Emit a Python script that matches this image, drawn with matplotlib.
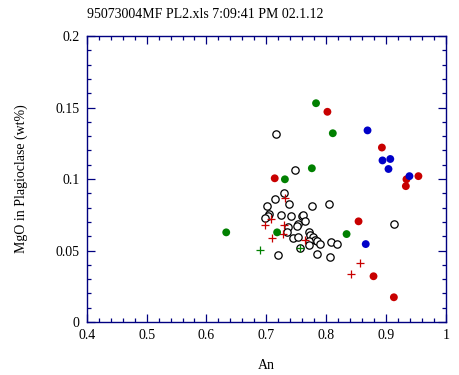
import matplotlib
matplotlib.use("Agg")
import matplotlib.pyplot as plt
from matplotlib.ticker import MultipleLocator

plt.rcParams['font.family'] = ['Liberation Serif', 'DejaVu Serif']

title = "95073004MF PL2.xls 7:09:41 PM 02.1.12"

# open circles
open_x = [0.716, 0.748, 0.729, 0.714, 0.738, 0.701, 0.776, 0.804, 0.704, 0.703,
          0.698, 0.724, 0.741, 0.760, 0.761, 0.764, 0.753, 0.751, 0.736, 0.914,
          0.734, 0.772, 0.773, 0.778, 0.781, 0.772, 0.784, 0.789, 0.744, 0.753,
          0.771, 0.808, 0.818, 0.757, 0.719, 0.784, 0.806]
open_y = [0.1315, 0.106, 0.090, 0.0858, 0.0823, 0.081, 0.081, 0.0823, 0.0753, 0.0741,
          0.0725, 0.0748, 0.0741, 0.0739, 0.0745, 0.0706, 0.0685, 0.0672, 0.0664, 0.0685,
          0.063, 0.0632, 0.0608, 0.0597, 0.0573, 0.0569, 0.0566, 0.0545, 0.0585, 0.0592,
          0.0538, 0.0557, 0.0545, 0.0515, 0.0468, 0.0475, 0.0452]

red_x = [0.802, 0.893, 0.714, 0.934, 0.954, 0.933, 0.854, 0.879, 0.913]
red_y = [0.147, 0.122, 0.1005, 0.0998, 0.102, 0.095, 0.0704, 0.032, 0.0173]

blue_x = [0.869, 0.894, 0.907, 0.904, 0.939, 0.866]
blue_y = [0.134, 0.113, 0.114, 0.107, 0.102, 0.0545]

green_x = [0.783, 0.811, 0.776, 0.731, 0.633, 0.718, 0.834]
green_y = [0.153, 0.132, 0.1075, 0.0998, 0.0627, 0.0627, 0.0615]

redplus_x = [0.7305, 0.707, 0.698, 0.729, 0.728, 0.709, 0.764, 0.856, 0.841]
redplus_y = [0.0865, 0.0718, 0.0676, 0.0677, 0.0613, 0.0585, 0.057, 0.041, 0.0333]

greenplus_x = [0.689, 0.757]
greenplus_y = [0.0501, 0.0515]

RED = '#c80000'
GREEN = '#008000'
BLUE = '#0000c8'
NAVY = '#000080'

fig = plt.figure(figsize=(4.6, 3.75), dpi=100)
ax = fig.add_axes([0.1885, 0.1413, 0.781, 0.7627])

ax.scatter(open_x, open_y, s=28, facecolors='white', edgecolors='black', linewidths=0.9, zorder=2)
ax.scatter(redplus_x, redplus_y, s=38, marker='+', color=RED, linewidths=0.9, zorder=3)
ax.scatter(greenplus_x, greenplus_y, s=38, marker='+', color=GREEN, linewidths=0.9, zorder=3)
ax.scatter(green_x, green_y, s=32, color=GREEN, edgecolors='none', zorder=4)
ax.scatter(red_x, red_y, s=32, color=RED, edgecolors='none', zorder=4)
ax.scatter(blue_x, blue_y, s=32, color=BLUE, edgecolors='none', zorder=5)

ax.set_xlim(0.4, 1.0)
ax.set_ylim(0, 0.2)
ax.xaxis.set_minor_locator(MultipleLocator(0.02))
ax.yaxis.set_minor_locator(MultipleLocator(0.01))
ax.set_xticks([0.4, 0.5, 0.6, 0.7, 0.8, 0.9, 1.0])
ax.set_xticklabels(['0.4', '0.5', '0.6', '0.7', '0.8', '0.9', '1'])
ax.set_yticks([0, 0.05, 0.1, 0.15, 0.2])
ax.set_yticklabels(['0', '0.05', '0.1', '0.15', '0.2'])

ax.tick_params(which='both', direction='in', top=True, right=True,
               color=NAVY, labelsize=10, labelcolor='black')
ax.tick_params(which='major', length=6, width=0.9, pad=5)
ax.tick_params(which='minor', length=3, width=0.9)
for s in ax.spines.values():
    s.set_color(NAVY)
    s.set_linewidth(1.0)

ax.set_xlabel('An', fontsize=10, labelpad=12)
ax.set_ylabel('MgO in Plagioclase (wt%)', fontsize=10, labelpad=20)
fig.text(0.189, 0.962, title, fontsize=10, ha='left', va='center')

fig.savefig('out.png', dpi=100)
